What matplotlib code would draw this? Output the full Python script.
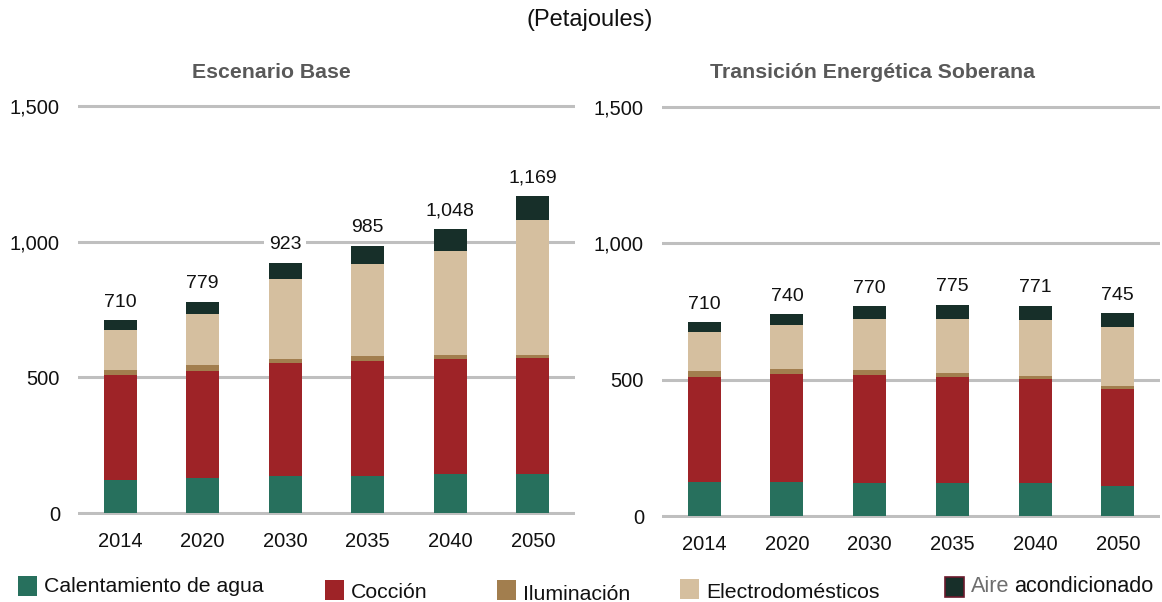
import matplotlib
matplotlib.use("Agg")
import matplotlib.pyplot as plt
from matplotlib.patches import Rectangle
import numpy as np

plt.rcParams['font.family'] = ['Liberation Sans', 'DejaVu Sans']

years = ['2014', '2020', '2030', '2035', '2040', '2050']
series = ['Calentamiento de agua', 'Cocción', 'Iluminación', 'Electrodomésticos', 'Aire acondicionado']
colors = ['#27705d', '#9e2327', '#a27e4e', '#d5bf9f', '#172f29']

# Escenario Base (PJ)
base_agua = [122, 129, 135, 138, 142, 145]
base_coccion = [388, 396, 416, 422, 425, 426]
base_ilum = [18, 20, 16, 17, 17, 13]
base_electro = [146, 188, 295, 339, 382, 497]
base_aire = [36, 46, 61, 69, 82, 88]
base_total = [710, 779, 923, 985, 1048, 1169]

# Transición Energética Soberana (PJ)
tes_agua = [126, 126, 122, 122, 120, 109]
tes_coccion = [384, 395, 395, 389, 382, 357]
tes_ilum = [22, 17, 18, 13, 11, 10]
tes_electro = [142, 164, 189, 200, 205, 217]
tes_aire = [36, 38, 46, 51, 53, 52]
tes_total = [710, 740, 770, 775, 771, 745]

yticks = [0, 500, 1000, 1500]
ytick_labels = ['0', '500', '1,000', '1,500']

W, H = 1162, 602
fig = plt.figure(figsize=(W / 100, H / 100), dpi=100)


def fx(x):
    return x / W


def fy(y):
    return 1 - y / H


def panel(rect, stacks, totals, title, title_x, boxed=()):
    ax = fig.add_axes(rect)
    x = np.arange(len(years))
    bottom = np.zeros(len(years))
    for vals, c in zip(stacks, colors):
        ax.bar(x, vals, width=0.4, bottom=bottom, color=c, zorder=2, linewidth=0)
        bottom += np.array(vals)
    for i, t in enumerate(totals):
        kw = {}
        if i in boxed:
            kw['bbox'] = dict(boxstyle='square,pad=0.25', fc='white', ec='none')
        ax.text(x[i], bottom[i] + 34, f'{t:,}', ha='center', va='bottom',
                fontsize=14, color='#111111', zorder=4, **kw)
    for v in yticks:
        ax.axhline(v, color='#bfbfbf', lw=2.2, zorder=1)
    ax.set_xlim(-0.51, len(years) - 0.49)
    ax.set_ylim(-8, 1510)
    ax.set_xticks(x)
    ax.set_xticklabels(years, fontsize=14.5, color='#111111')
    ax.set_yticks(yticks)
    ax.set_yticklabels(ytick_labels, fontsize=14.5, color='#111111')
    ax.tick_params(axis='y', length=0, pad=13)
    ax.tick_params(axis='x', length=0, pad=12)
    for s in ax.spines.values():
        s.set_visible(False)
    fig.text(fx(title_x), fy(73), title, ha='center', va='center',
             fontsize=15.3, fontweight='bold', color='#595959')
    return ax


panel([fx(78), fy(515.2), fx(575) - fx(78), (515.2 - 103.2) / H],
      [base_agua, base_coccion, base_ilum, base_electro, base_aire],
      base_total, 'Escenario Base', 271, boxed=(2,))
panel([fx(662), fy(518.2), fx(1160) - fx(662), (518.2 - 104.2) / H],
      [tes_agua, tes_coccion, tes_ilum, tes_electro, tes_aire],
      tes_total, 'Transición Energética Soberana', 872)

fig.text(fx(590), fy(20), '(Petajoules)', ha='center', va='center',
         fontsize=17, color='#111111')

# Legend, drawn entry by entry
legend_pos = [(18, 586), (325, 590), (497, 590), (680, 589), (945, 587)]
text_y = [586, 592, 594, 592, 587]
for (sx, sy), ty, c, name in zip(legend_pos, text_y, colors, series):
    ec = '#6b1a2c' if name.startswith('Aire') else 'none'
    fig.patches.append(Rectangle((fx(sx), fy(sy + 10)), 19 / W, 20 / H,
                                 transform=fig.transFigure, facecolor=c,
                                 edgecolor=ec, linewidth=1.2))
    tx = sx + 26
    if name.startswith('Aire'):
        t1 = fig.text(fx(tx), fy(ty), 'Aire', ha='left', va='center',
                      fontsize=15.6, color='#6e6e6e')
        fig.canvas.draw()
        bb = t1.get_window_extent()
        fig.text(bb.x1 / W + 5 / W, fy(ty), 'acondicionado', ha='left',
                 va='center', fontsize=15.6, color='#111111')
    else:
        fig.text(fx(tx), fy(ty), name, ha='left', va='center',
                 fontsize=15.3, color='#111111')

fig.savefig('out.png', dpi=100)
